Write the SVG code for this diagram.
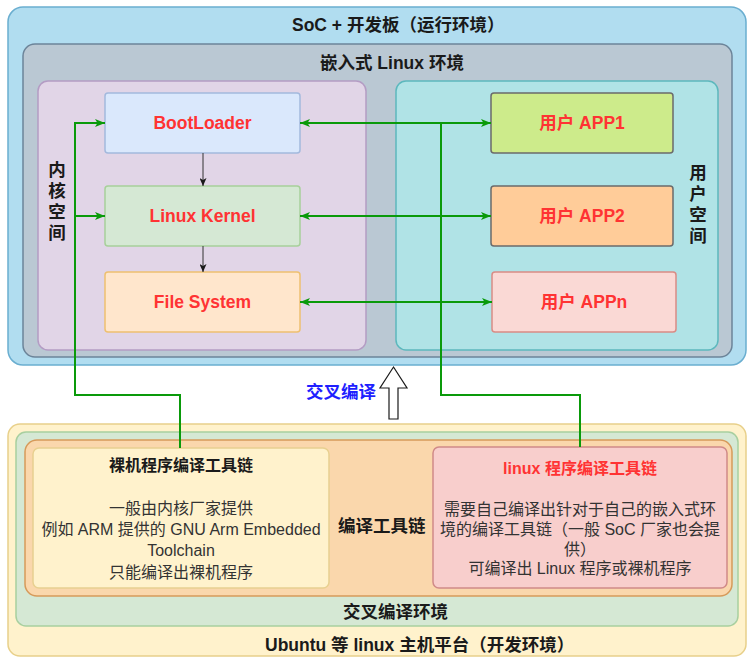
<svg xmlns="http://www.w3.org/2000/svg" width="751" height="659" viewBox="0 0 751 659">
<style>
text{font-family:"Liberation Sans","Noto Sans CJK SC",sans-serif;}
.t{font-size:17.5px;font-weight:bold;fill:#1a1a1a;}
.n{font-size:17.5px;font-weight:bold;fill:#ff3333;text-anchor:middle;}
.b{font-size:16px;fill:#333333;text-anchor:middle;}
.g{fill:none;stroke:#0a9a0a;stroke-width:2;}
.k{fill:none;stroke:#333333;stroke-width:1;}
</style>
<defs>
<marker id="ga" viewBox="0 0 10 8" refX="10" refY="4" markerWidth="10" markerHeight="8" markerUnits="userSpaceOnUse" orient="auto-start-reverse">
<path d="M0,0 L10,4 L0,8 L2.5,4 z" fill="#0a9a0a"/>
</marker>
<marker id="ka" viewBox="0 0 8 7" refX="8" refY="3.5" markerWidth="8" markerHeight="7" markerUnits="userSpaceOnUse" orient="auto">
<path d="M0,0 L8,3.5 L0,7 L2,3.5 z" fill="#1a1a1a"/>
</marker>
</defs>

<g id="soc">
<rect x="8" y="7" width="738" height="358" rx="15" fill="#b1ddf0" stroke="#6aaed0" stroke-width="1.5"/>
<text class="t" x="292" y="31">SoC + 开发板（运行环境）</text>
</g>
<g id="embedded-linux">
<rect x="23" y="44" width="709" height="313" rx="12" fill="#bac8d3" stroke="#6c8499" stroke-width="1.5"/>
<text class="t" x="320" y="69">嵌入式 Linux 环境</text>
</g>
<g id="kernel-space">
<rect x="38" y="81" width="328" height="269" rx="10" fill="#e1d5e7" stroke="#b49cc4" stroke-width="1.5"/>
<text class="t" text-anchor="middle"><tspan x="57" y="176">内</tspan><tspan x="57" dy="21">核</tspan><tspan x="57" dy="21">空</tspan><tspan x="57" dy="21">间</tspan></text>
</g>
<g id="user-space">
<rect x="396" y="81" width="322" height="269" rx="10" fill="#b0e3e6" stroke="#5cb8bd" stroke-width="1.5"/>
<text class="t" text-anchor="middle"><tspan x="698" y="179">用</tspan><tspan x="698" dy="21">户</tspan><tspan x="698" dy="21">空</tspan><tspan x="698" dy="21">间</tspan></text>
</g>
<g id="bootloader">
<rect x="105" y="93" width="195" height="60" rx="3" fill="#dae8fc" stroke="#a3b9dd" stroke-width="1.5"/>
<text class="n" x="202.5" y="129">BootLoader</text>
</g>
<g id="linux-kernel">
<rect x="105" y="186" width="195" height="60" rx="3" fill="#d5e8d4" stroke="#a7d09a" stroke-width="1.5"/>
<text class="n" x="202.5" y="222">Linux Kernel</text>
</g>
<g id="file-system">
<rect x="105" y="272" width="195" height="60" rx="3" fill="#ffe6cc" stroke="#eec070" stroke-width="1.5"/>
<text class="n" x="202.5" y="308">File System</text>
</g>
<g id="app1">
<rect x="491" y="93" width="182" height="60" rx="3" fill="#cdeb8b" stroke="#6b6b6b" stroke-width="1.5"/>
<text class="n" x="582" y="129">用户 APP1</text>
</g>
<g id="app2">
<rect x="491" y="186" width="182" height="60" rx="3" fill="#ffcc99" stroke="#6b6b6b" stroke-width="1.5"/>
<text class="n" x="582" y="222">用户 APP2</text>
</g>
<g id="appn">
<rect x="492" y="272" width="184" height="60" rx="3" fill="#fad9d5" stroke="#d98c85" stroke-width="1.5"/>
<text class="n" x="584" y="308">用户 APPn</text>
</g>

<g id="host">
<rect x="8" y="424" width="738" height="232" rx="12" fill="#fff2cc" stroke="#e8d08a" stroke-width="1.5"/>
<text class="t" x="265" y="651">Ubuntu 等 linux 主机平台（开发环境）</text>
</g>
<g id="cross-env">
<rect x="16" y="432" width="722" height="194" rx="10" fill="#d5e8d4" stroke="#a8cf9f" stroke-width="1.5"/>
<text class="t" x="343" y="618">交叉编译环境</text>
</g>
<g id="toolchains">
<rect x="25" y="440" width="707" height="156" rx="12" fill="#fad7ac" stroke="#d69a5a" stroke-width="1.5"/>
<text class="t" x="338" y="532">编译工具链</text>
</g>
<g id="bare-metal-toolchain">
<rect x="33" y="448" width="296" height="140" rx="6" fill="#fff2cc" stroke="#e8d090" stroke-width="1.5"/>
<text class="b" x="181" y="471" style="font-weight:bold;fill:#1a1a1a">裸机程序编译工具链</text>
<text class="b" x="181" y="514">一般由内核厂家提供</text>
<text class="b" x="181" y="535">例如 ARM 提供的 GNU Arm Embedded</text>
<text class="b" x="181" y="556">Toolchain</text>
<text class="b" x="181" y="578">只能编译出裸机程序</text>
</g>
<g id="linux-toolchain">
<rect x="433" y="447" width="294" height="141" rx="6" fill="#f8cecc" stroke="#d08a88" stroke-width="1.5"/>
<text class="b" x="580" y="474" style="font-weight:bold;fill:#ff3333">linux 程序编译工具链</text>
<text class="b" x="580" y="515">需要自己编译出针对于自己的嵌入式环</text>
<text class="b" x="580" y="535">境的编译工具链（一般 SoC 厂家也会提</text>
<text class="b" x="580" y="555">供）</text>
<text class="b" x="580" y="574">可编译出 Linux 程序或裸机程序</text>
</g>

<g id="cross-compile">
<text x="306" y="398" style="font-size:17.5px;font-weight:bold;fill:#1f1fff">交叉编译</text>
<polygon points="393.5,367 407,388 398,388 398,419 389,419 389,388 380,388" fill="#ffffff" stroke="#1a1a1a" stroke-width="1.2"/>
</g>

<g id="connectors">
<line class="k" x1="203" y1="153" x2="203" y2="186" marker-end="url(#ka)"/>
<line class="k" x1="203" y1="246" x2="203" y2="272" marker-end="url(#ka)"/>
<path class="g" d="M180,448 V395 H75 V123 H105" marker-end="url(#ga)"/>
<path class="g" d="M75,216 H105" marker-end="url(#ga)"/>
<path class="g" d="M580,447 V395 H441 V123"/>
<path class="g" d="M300,123 H491" marker-start="url(#ga)" marker-end="url(#ga)"/>
<path class="g" d="M300,216 H491" marker-start="url(#ga)" marker-end="url(#ga)"/>
<path class="g" d="M300,302 H492" marker-start="url(#ga)" marker-end="url(#ga)"/>
</g>
</svg>
